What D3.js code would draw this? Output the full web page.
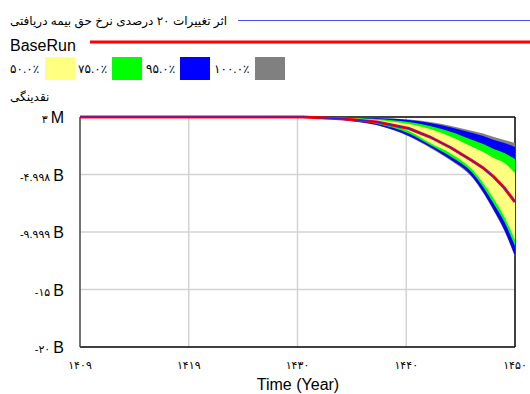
<!DOCTYPE html>
<html>
<head>
<meta charset="utf-8">
<script src="https://cdn.jsdelivr.net/npm/d3@7"></script>
<style>
  html, body { margin: 0; padding: 0; background: #fff; }
  svg { display: block; }
  text { font-family: "Liberation Sans", Arial, "DejaVu Sans", sans-serif; fill: #000; }
</style>
</head>
<body>
<svg id="chart" width="530" height="394"></svg>
<script>
// Simulation years (Persian calendar)
const years = [1409, 1420, 1426, 1430, 1434, 1437, 1440, 1442, 1444, 1446, 1447, 1448, 1449, 1450];

// Liquidity (billions) – sensitivity envelope bounds
const p100Hi = [0.003, 0.003, 0.003, 0, -0.03, -0.09, -0.22, -0.43, -0.78, -1.22, -1.43, -1.74, -2.00, -2.26];
const p95Hi  = [0.003, 0.003, 0.003, 0, -0.03, -0.11, -0.26, -0.52, -0.91, -1.39, -1.65, -2.00, -2.26, -2.61];
const p75Hi  = [0.003, 0.003, 0.003, 0, -0.06, -0.17, -0.43, -0.78, -1.30, -2.00, -2.35, -2.78, -3.13, -3.65];
const p50Hi  = [0.003, 0.003, 0.003, 0, -0.09, -0.26, -0.61, -1.04, -1.74, -2.61, -3.04, -3.57, -4.00, -4.87];
const p50Lo  = [0.003, 0.003, 0.003, 0, -0.22, -0.52, -1.22, -2.26, -3.21, -4.61, -5.74, -7.13, -8.69, -10.69];
const p75Lo  = [0.003, 0.003, 0.003, 0, -0.24, -0.61, -1.43, -2.43, -3.47, -4.87, -6.08, -7.56, -9.13, -11.22];
const p95Lo  = [0.003, 0.003, 0.003, 0, -0.28, -0.70, -1.65, -2.61, -3.74, -5.21, -6.52, -8.09, -9.82, -12.09];
const p100Lo = [0.003, 0.003, 0.003, 0, -0.30, -0.72, -1.70, -2.69, -3.82, -5.30, -6.61, -8.17, -9.91, -12.17];

// Base run and the 20% premium-rate change run
const baseRun   = [0.003, 0.003, 0.003, 0, -0.17, -0.43, -1.00, -1.74, -2.69, -3.83, -4.43, -5.21, -6.17, -7.39];
const changeRun = [0.003, 0.003, 0.003, 0, -0.17, -0.43, -1.00, -1.74, -2.69, -3.83, -4.43, -5.21, -6.17, -7.39];

// Axis ticks
const xTickValues = [1409, 1419.25, 1429.5, 1439.75, 1450];
const xTickLabels = ["۱۴۰۹", "۱۴۱۹", "۱۴۳۰", "۱۴۴۰", "۱۴۵۰"];
const yTickValues = [0.003, -4.998, -9.999, -15, -20];
const yTickNums   = ["۳", "-۴.۹۹۸", "-۹.۹۹۹", "-۱۵", "-۲۰"];
const yTickUnits  = ["M", "B", "B", "B", "B"];

// Legend
const titleRun = "اثر تغییرات ۲۰ درصدی نرخ حق بیمه دریافتی";
const baseName = "BaseRun";
const bandLabels = ["۵۰.۰٪", "۷۵.۰٪", "۹۵.۰٪", "۱۰۰.۰٪"];
const bandColors = ["#ffff80", "#00ff00", "#0000ff", "#808080"];
const varName = "نقدینگی";
const xTitle = "Time (Year)";

const svg = d3.select("#chart");
const plot = { left: 80, right: 515, top: 117, bottom: 347 };

const x = d3.scaleLinear().domain([1409, 1450]).range([plot.left, plot.right]);
const y = d3.scaleLinear().domain([-20, 0.003]).range([plot.bottom, plot.top]);

// ---- Legend ----
svg.append("text").attr("x", 10).attr("y", 25).attr("font-size", 12).text(titleRun);
svg.append("line").attr("x1", 238).attr("x2", 530).attr("y1", 20.5).attr("y2", 20.5)
  .attr("stroke", "#4a4aff").attr("stroke-width", 1);

svg.append("text").attr("x", 10).attr("y", 51).attr("font-size", 16).text(baseName);
svg.append("line").attr("x1", 90).attr("x2", 530).attr("y1", 42).attr("y2", 42)
  .attr("stroke", "#ff0000").attr("stroke-width", 3);

const legX = [10, 78, 146, 214];
const swX  = [45, 112, 180, 255];
bandLabels.forEach((lab, i) => {
  svg.append("text").attr("x", legX[i]).attr("y", 73).attr("font-size", 12).text(lab);
  svg.append("rect").attr("x", swX[i]).attr("y", 57).attr("width", 30).attr("height", 23)
    .attr("fill", bandColors[i]);
});

svg.append("text").attr("x", 10).attr("y", 101).attr("font-size", 12).text(varName);

// ---- Grid ----
const grid = svg.append("g").attr("stroke", "#d3d3d3").attr("stroke-width", 1.5);
xTickValues.slice(1, -1).forEach(v => {
  grid.append("line").attr("x1", x(v)).attr("x2", x(v)).attr("y1", plot.top).attr("y2", plot.bottom);
});
yTickValues.slice(1, -1).forEach(v => {
  grid.append("line").attr("x1", plot.left).attr("x2", plot.right).attr("y1", y(v)).attr("y2", y(v));
});

// ---- Frame ----
svg.append("line").attr("x1", plot.left).attr("x2", plot.right).attr("y1", plot.top).attr("y2", plot.top)
  .attr("stroke", "#000").attr("stroke-width", 1.5);
svg.append("line").attr("x1", plot.right).attr("x2", plot.right).attr("y1", plot.top).attr("y2", plot.bottom)
  .attr("stroke", "#000").attr("stroke-width", 1.5);
svg.append("line").attr("x1", plot.left).attr("x2", plot.right).attr("y1", plot.bottom).attr("y2", plot.bottom)
  .attr("stroke", "#000").attr("stroke-width", 1.5);
svg.append("line").attr("x1", plot.left).attr("x2", plot.left).attr("y1", plot.top).attr("y2", plot.bottom)
  .attr("stroke", "#444").attr("stroke-width", 1.5);

// ---- Sensitivity bands (outer to inner) ----
const bands = [
  { hi: p100Hi, lo: p100Lo, color: bandColors[3] },
  { hi: p95Hi,  lo: p95Lo,  color: bandColors[2] },
  { hi: p75Hi,  lo: p75Lo,  color: bandColors[1] },
  { hi: p50Hi,  lo: p50Lo,  color: bandColors[0] }
];
const area = d3.area()
  .x(d => x(d.t)).y0(d => y(d.lo)).y1(d => y(d.hi))
  .curve(d3.curveMonotoneX);
bands.forEach(b => {
  const pts = years.map((t, i) => ({ t, hi: b.hi[i], lo: b.lo[i] }));
  svg.append("path").attr("d", area(pts)).attr("fill", b.color);
});

// ---- Runs ----
const line = d3.line().x(d => x(d.t)).y(d => y(d.v));
svg.append("path")
  .attr("d", line(years.map((t, i) => ({ t, v: baseRun[i] }))))
  .attr("fill", "none").attr("stroke", "#ff0000").attr("stroke-width", 3);
svg.append("path")
  .attr("d", line(years.map((t, i) => ({ t, v: changeRun[i] }))))
  .attr("fill", "none").attr("stroke", "#2020ff").attr("stroke-width", 1);

// ---- Axis labels ----
yTickValues.forEach((v, i) => {
  const t = svg.append("text").attr("x", 64).attr("y", y(v) + 6).attr("text-anchor", "end");
  t.append("tspan").attr("font-size", 11).text(yTickNums[i] + " ");
  t.append("tspan").attr("font-size", 16).text(yTickUnits[i]);
});
xTickValues.forEach((v, i) => {
  svg.append("text").attr("x", x(v)).attr("y", 369).attr("text-anchor", "middle")
    .attr("font-size", 11).text(xTickLabels[i]);
});
svg.append("text").attr("x", 298).attr("y", 390).attr("text-anchor", "middle")
  .attr("font-size", 16).text(xTitle);
</script>
</body>
</html>
